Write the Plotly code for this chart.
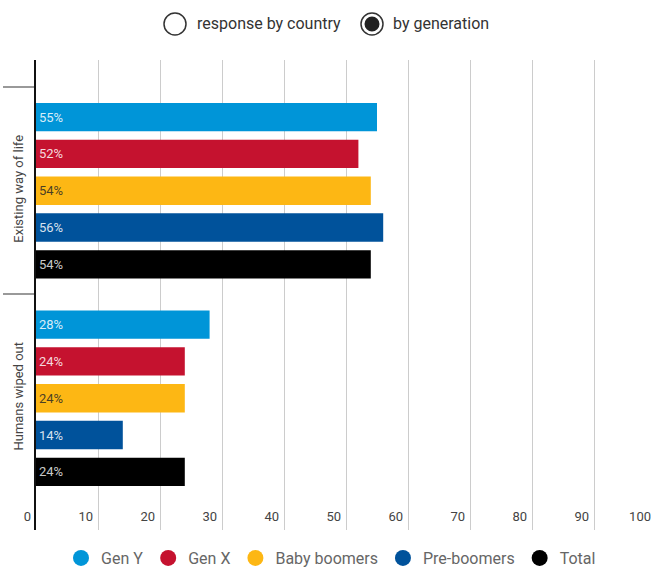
import plotly.graph_objects as go

# data
categories = ["Existing way of life", "Humans wiped out"]
generations = ["Gen Y", "Gen X", "Baby boomers", "Pre-boomers", "Total"]
values = {
    "Gen Y": [55, 28],
    "Gen X": [52, 24],
    "Baby boomers": [54, 24],
    "Pre-boomers": [56, 14],
    "Total": [54, 24],
}
colors = ["#0095d8", "#c5122f", "#fdb714", "#00529b", "#000000"]
text_colors = ["rgba(255,255,255,0.85)", "rgba(255,255,255,0.85)", "rgba(40,40,40,0.85)",
               "rgba(255,255,255,0.85)", "rgba(255,255,255,0.8)"]
x_ticks = list(range(0, 101, 10))

FONT = "Roboto, sans-serif"

W, H = 668, 588
L, R, T, B = 36, 12, 60, 58
pw, ph = W - L - R, H - T - B


def px_x(x):
    return (x - L) / pw


def px_y(y):
    return (H - B - y) / ph


fig = go.Figure()

for gen, col, tcol in zip(generations, colors, text_colors):
    fig.add_trace(go.Bar(
        y=categories, x=values[gen], orientation="h", name=gen,
        marker=dict(color=col, line=dict(width=0)),
        text=[f"{v}%" for v in values[gen]], textposition="inside",
        insidetextanchor="start", textangle=0,
        textfont=dict(family=FONT, size=13, color=tcol),
        showlegend=False, hoverinfo="skip",
    ))

# legend entries with round markers
for gen, col in zip(generations, colors):
    fig.add_trace(go.Scatter(
        x=[None], y=[None], mode="markers", name=gen,
        marker=dict(color=col, size=16, symbol="circle"),
    ))

fig.update_layout(
    width=W, height=H,
    margin=dict(l=L, r=R, t=T, b=B),
    paper_bgcolor="white", plot_bgcolor="white",
    barmode="group", bargap=0.113, bargroupgap=0.23,
    font=dict(family=FONT, color="#333"),
    legend=dict(orientation="h", x=px_x(331), xanchor="center", y=px_y(558), yanchor="middle",
                font=dict(family=FONT, size=16, color="#666"), itemwidth=30,
                traceorder="normal"),
    xaxis=dict(
        range=[0, 100], tickvals=x_ticks, showgrid=True, gridcolor="#cccccc", gridwidth=1,
        zeroline=False, showline=False, ticks="",
        ticklabelposition="inside left", ticklabelshift=-5, ticklabeloverflow="allow",
        tickfont=dict(family=FONT, size=13, color="#444"),
    ),
    yaxis=dict(
        type="category", categoryorder="array", categoryarray=categories,
        range=[1.635, -0.63], showgrid=False, zeroline=False,
        showline=True, linecolor="#111", linewidth=2,
        ticks="outside", tickson="boundaries", ticklen=31, tickcolor="#999", tickwidth=2,
        tickangle=-90, ticklabelstandoff=6, automargin=False,
        tickfont=dict(family=FONT, size=13, color="#444"),
    ),
)

# radio buttons at top
r = 11
for cx in (175, 372):
    fig.add_shape(type="circle", xref="paper", yref="paper",
                  x0=px_x(cx - r), x1=px_x(cx + r), y0=px_y(24 + r), y1=px_y(24 - r),
                  line=dict(color="#333", width=1.5), fillcolor="white")
ri = 7.5
fig.add_shape(type="circle", xref="paper", yref="paper",
              x0=px_x(372 - ri), x1=px_x(372 + ri), y0=px_y(24 + ri), y1=px_y(24 - ri),
              line=dict(color="#222", width=0), fillcolor="#222")
fig.add_annotation(text="response by country", xref="paper", yref="paper",
                   x=px_x(195), y=px_y(24), xanchor="left", yanchor="middle",
                   showarrow=False, font=dict(family=FONT, size=16, color="#333"))
fig.add_annotation(text="by generation", xref="paper", yref="paper",
                   x=px_x(391), y=px_y(24), xanchor="left", yanchor="middle",
                   showarrow=False, font=dict(family=FONT, size=16, color="#333"))

# page has a default body margin; remove it so the figure fills the window
fig.write_html("out.html", config={"displayModeBar": False},
               post_script="document.body.style.margin='0';")
